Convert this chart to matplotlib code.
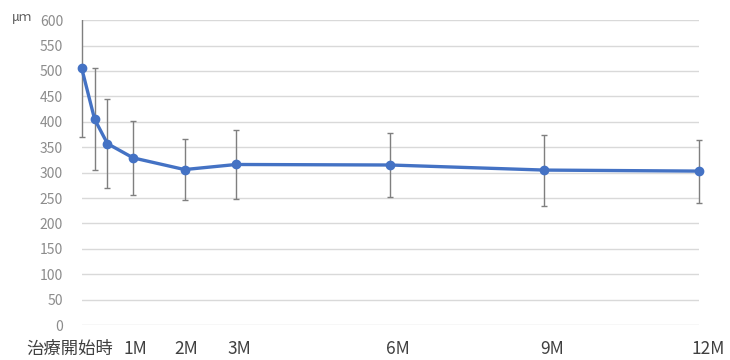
import matplotlib
matplotlib.use("Agg")
from matplotlib import pyplot as plt
from matplotlib.transforms import ScaledTranslation, Bbox, TransformedBbox

plt.rcParams['font.family'] = ['Noto Sans CJK JP', 'DejaVu Sans']

# months after start of treatment
months = [0, 0.25, 0.5, 1, 2, 3, 6, 9, 12]
values = [505, 405, 357, 329, 306, 316, 315, 305, 303]
errors = [135, 100, 87, 73, 60, 68, 62, 70, 62]

tick_pos = [0, 1, 2, 3, 6, 9, 12]
tick_labels = ['治療開始時', '1M', '2M', '3M', '6M', '9M', '12M']
# small horizontal shifts of the labels, in pixels (as in the original)
tick_shift = [-12, 2, 2, 3, 8, 8, 10]

fig = plt.figure(figsize=(7.3, 3.6), dpi=100)
ax = fig.add_axes([0.112, 0.097, 0.845, 0.847])

eb = ax.errorbar(months, values, yerr=errors, fmt='none', ecolor='#7f7f7f',
                 elinewidth=1, capsize=2.5, capthick=1, zorder=2)
# clip only vertically (top of first bar is cut at 600 like in the original)
clip = TransformedBbox(Bbox([[-0.05, 0], [1.05, 1]]), ax.transAxes)
for art in eb.lines[1] + eb.lines[2]:
    art.set_clip_box(clip)
ax.plot(months, values, color='#4472C4', lw=2.4, marker='o', ms=6,
        zorder=3, clip_on=False)

ax.set_xlim(0, 12)
ax.set_ylim(0, 600)
ax.set_yticks(range(0, 601, 50))
ax.grid(axis='y', color='#d9d9d9', lw=1)
ax.set_axisbelow(True)
for s in ax.spines.values():
    s.set_visible(False)
ax.tick_params(axis='y', length=0, pad=13.5, labelsize=10, labelcolor='#8c8c8c')
ax.tick_params(axis='x', length=0, pad=11, labelsize=12.5, labelcolor='#404040')

ax.set_xticks(tick_pos)
ax.set_xticklabels(tick_labels)
for lab, dx in zip(ax.get_xticklabels(), tick_shift):
    lab.set_transform(lab.get_transform() + ScaledTranslation(dx / 100, 0, fig.dpi_scale_trans))

fig.text(0.016, 0.952, 'μｍ', fontsize=9, color='#595959', va='center')

fig.savefig('out.png', dpi=100)
